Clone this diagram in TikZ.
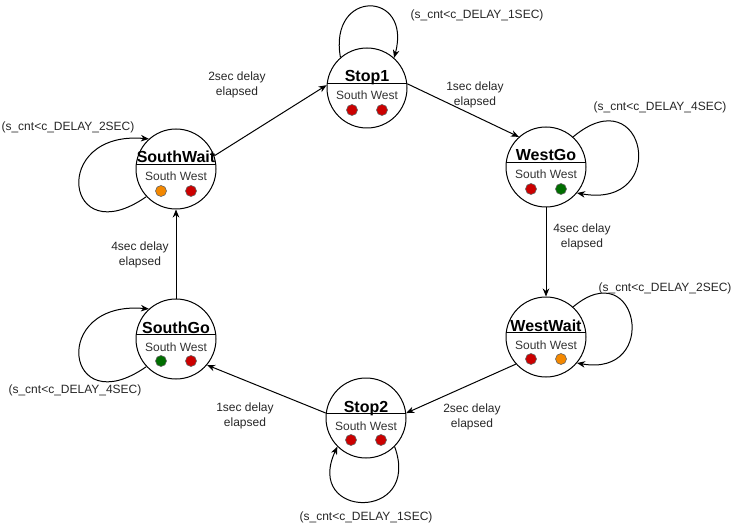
\documentclass[tikz,border=0pt]{standalone}
\usepackage{fontspec}
\setmainfont{Liberation Sans}
\usetikzlibrary{arrows.meta,calc}
\definecolor{lampred}{RGB}{204,0,0}
\definecolor{lamporange}{RGB}{244,136,0}
\definecolor{lampgreen}{RGB}{0,110,0}

\begin{document}
\begin{tikzpicture}[
    x=1pt, y=1pt,
    state/.style={draw, circle, minimum size=80pt, inner sep=0pt, line width=1pt},
    title/.style={font=\fontsize{16}{18}\selectfont\bfseries, anchor=base, inner sep=0pt},
    dirs/.style={font=\fontsize{12}{14}\selectfont, text=black!80, anchor=base, inner sep=0pt},
    lamp/.style={draw=black!60, circle, minimum size=11pt, inner sep=0pt, line width=0.6pt},
    lbl/.style={font=\fontsize{12}{14.5}\selectfont, align=center, text=black!85},
    arr/.style={-{Stealth[length=8pt,width=6.5pt,inset=2.5pt]}, line width=1pt},
]
    \useasboundingbox (0,0) rectangle (733,528);

    % states: circle, name, divider, directions, two lamps
    \foreach \n/\x/\y/\txt/\ls/\lw in {
        stop1/367/440/Stop1/lampred/lampred,
        westgo/546/361/WestGo/lampred/lampgreen,
        westwait/546/191/WestWait/lampred/lamporange,
        stop2/366/110/Stop2/lampred/lampred,
        southgo/176/189/SouthGo/lampgreen/lampred,
        southwait/176/359/SouthWait/lamporange/lampred} {
        \node[state] (\n) at (\x,\y) {};
        \node[title] (\n-title) at ($(\n)+(0,6)$) {\txt};
        \draw[line width=1pt] (\n.174) -- (\n.6);
        \node[dirs] (\n-dirs) at ($(\n)+(0,-12)$) {South West};
        \node[lamp, fill=\ls] (\n-s) at ($(\n)+(-15,-22)$) {};
        \node[lamp, fill=\lw] (\n-w) at ($(\n)+(15,-22)$) {};
    }

    % transitions
    \draw[arr] (southwait.19) -- (stop1.176);
    \draw[arr] (stop1.6) -- (westgo.132);
    \draw[arr] (westgo.south) -- (westwait.north);
    \draw[arr] (westwait.222) -- (stop2.7);
    \draw[arr] (stop2.173) -- (southgo.320);
    \draw[arr] (southgo.north) -- (southwait.south);

    \node[lbl] (t-sw-s1) at (237,443) {2sec delay\\elapsed};
    \node[lbl] (t-s1-wg) at (475,433) {1sec delay\\elapsed};
    \node[lbl] (t-wg-ww) at (582,291) {4sec delay\\elapsed};
    \node[lbl] (t-ww-s2) at (472,111) {2sec delay\\elapsed};
    \node[lbl] (t-s2-sg) at (245,112) {1sec delay\\elapsed};
    \node[lbl] (t-sg-sw) at (140,273) {4sec delay\\elapsed};

    % self loops
    \draw[arr] (stop1.131) to[out=100, in=75, distance=70pt] (stop1.48);
    \draw[arr] (westgo.48) to[out=40, in=-10, distance=95pt] (westgo.-40);
    \draw[arr] (westwait.48) to[out=40, in=-10, distance=85pt] (westwait.-40);
    \draw[arr] (stop2.-45) to[out=-70, in=-115, distance=80pt] (stop2.-135);
    \draw[arr] (southgo.-137) to[out=215, in=175, distance=100pt] (southgo.132);
    \draw[arr] (southwait.-137) to[out=215, in=175, distance=100pt] (southwait.132);

    \node[lbl] (c-stop1) at (477,513) {(s\_cnt<c\_DELAY\_1SEC)};
    \node[lbl] (c-westgo) at (660,421) {(s\_cnt<c\_DELAY\_4SEC)};
    \node[lbl] (c-westwait) at (665,240) {(s\_cnt<c\_DELAY\_2SEC)};
    \node[lbl] (c-stop2) at (366,11) {(s\_cnt<c\_DELAY\_1SEC)};
    \node[lbl] (c-southgo) at (75,138) {(s\_cnt<c\_DELAY\_4SEC)};
    \node[lbl] (c-southwait) at (68,401) {(s\_cnt<c\_DELAY\_2SEC)};
\end{tikzpicture}
\end{document}
